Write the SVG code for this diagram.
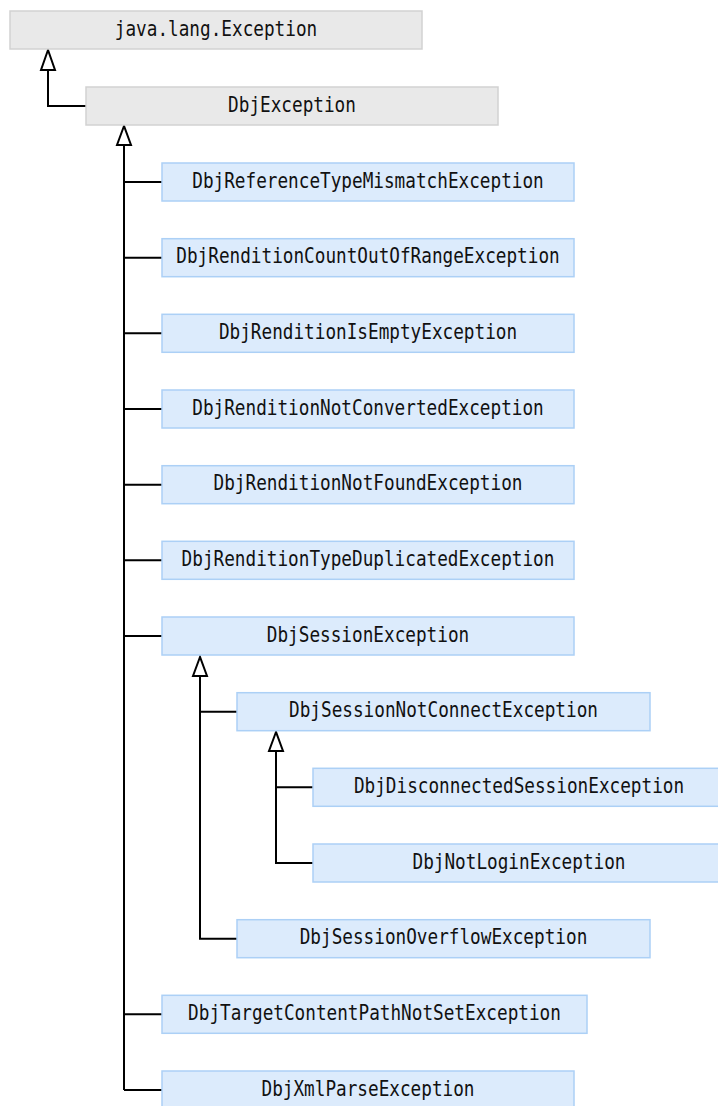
<svg xmlns="http://www.w3.org/2000/svg" width="718" height="1106" viewBox="0 0 718 1106">
  <style>
    .base rect { fill: #e9e9e9; stroke: #d2d2d2; stroke-width: 1.5; }
    .sub rect { fill: #dcebfc; stroke: #acd0f6; stroke-width: 1.5; }
    text { font-family: "DejaVu Sans Mono", "Liberation Mono", monospace; font-size: 20.5px; fill: #111; text-anchor: middle; }
    .wire { fill: none; stroke: #000; stroke-width: 2; }
    .head { fill: #fff; stroke: #000; stroke-width: 2; stroke-linejoin: miter; }
  </style>
  <rect width="718" height="1106" fill="#fff"/>

  <!-- inheritance connectors -->
  <g id="connectors">
    <path class="wire" d="M48 70 V106 H86"/>
    <path class="wire" d="M124 145 V1090"/>
    <path class="wire" d="M124 182 H162 M124 257.7 H162 M124 333.3 H162 M124 409 H162 M124 484.7 H162 M124 560.3 H162 M124 636 H162 M124 1014.3 H162 M124 1090 H162"/>
    <path class="wire" d="M200 676 V938.7 H237 M200 711.7 H237"/>
    <path class="wire" d="M276 751 V863 H313 M276 787.3 H313"/>
    <polygon class="head" points="48,50 41,70 55,70"/>
    <polygon class="head" points="124,126 117,145 131,145"/>
    <polygon class="head" points="200,657 193,676 207,676"/>
    <polygon class="head" points="276,732 269,751 283,751"/>
  </g>

  <g id="java-lang-Exception" class="base">
    <rect x="10" y="11" width="412" height="38"/>
    <text x="216" y="35.7" textLength="202.4" lengthAdjust="spacingAndGlyphs">java.lang.Exception</text>
  </g>
  <g id="DbjException" class="base">
    <rect x="86" y="87" width="412" height="38"/>
    <text x="292" y="111.7" textLength="127.8" lengthAdjust="spacingAndGlyphs">DbjException</text>
  </g>

  <g id="DbjReferenceTypeMismatchException" class="sub">
    <rect x="162" y="163" width="412" height="38"/>
    <text x="368" y="187.7" textLength="351.5" lengthAdjust="spacingAndGlyphs">DbjReferenceTypeMismatchException</text>
  </g>
  <g id="DbjRenditionCountOutOfRangeException" class="sub">
    <rect x="162" y="238.7" width="412" height="38"/>
    <text x="368" y="263.4" textLength="383.4" lengthAdjust="spacingAndGlyphs">DbjRenditionCountOutOfRangeException</text>
  </g>
  <g id="DbjRenditionIsEmptyException" class="sub">
    <rect x="162" y="314.3" width="412" height="38"/>
    <text x="368" y="339" textLength="298.2" lengthAdjust="spacingAndGlyphs">DbjRenditionIsEmptyException</text>
  </g>
  <g id="DbjRenditionNotConvertedException" class="sub">
    <rect x="162" y="390" width="412" height="38"/>
    <text x="368" y="414.7" textLength="351.5" lengthAdjust="spacingAndGlyphs">DbjRenditionNotConvertedException</text>
  </g>
  <g id="DbjRenditionNotFoundException" class="sub">
    <rect x="162" y="465.7" width="412" height="38"/>
    <text x="368" y="490.4" textLength="308.9" lengthAdjust="spacingAndGlyphs">DbjRenditionNotFoundException</text>
  </g>
  <g id="DbjRenditionTypeDuplicatedException" class="sub">
    <rect x="162" y="541.3" width="412" height="38"/>
    <text x="368" y="566" textLength="372.8" lengthAdjust="spacingAndGlyphs">DbjRenditionTypeDuplicatedException</text>
  </g>
  <g id="DbjSessionException" class="sub">
    <rect x="162" y="617" width="412" height="38"/>
    <text x="368" y="641.7" textLength="202.4" lengthAdjust="spacingAndGlyphs">DbjSessionException</text>
  </g>
  <g id="DbjSessionNotConnectException" class="sub">
    <rect x="237" y="692.7" width="413" height="38"/>
    <text x="443.5" y="717.4" textLength="308.9" lengthAdjust="spacingAndGlyphs">DbjSessionNotConnectException</text>
  </g>
  <!-- the two deepest boxes run to the right edge of the sheet -->
  <g id="DbjDisconnectedSessionException" class="sub">
    <rect x="313" y="768.3" width="406" height="38"/>
    <text x="519" y="793" textLength="330.2" lengthAdjust="spacingAndGlyphs">DbjDisconnectedSessionException</text>
  </g>
  <g id="DbjNotLoginException" class="sub">
    <rect x="313" y="844" width="406" height="38"/>
    <text x="519" y="868.7" textLength="213" lengthAdjust="spacingAndGlyphs">DbjNotLoginException</text>
  </g>
  <g id="DbjSessionOverflowException" class="sub">
    <rect x="237" y="919.7" width="413" height="38"/>
    <text x="443.5" y="944.4" textLength="287.6" lengthAdjust="spacingAndGlyphs">DbjSessionOverflowException</text>
  </g>
  <g id="DbjTargetContentPathNotSetException" class="sub">
    <rect x="162" y="995.3" width="425" height="38"/>
    <text x="374.5" y="1020" textLength="372.8" lengthAdjust="spacingAndGlyphs">DbjTargetContentPathNotSetException</text>
  </g>
  <g id="DbjXmlParseException" class="sub">
    <rect x="162" y="1071" width="412" height="38"/>
    <text x="368" y="1095.7" textLength="213" lengthAdjust="spacingAndGlyphs">DbjXmlParseException</text>
  </g>
</svg>
